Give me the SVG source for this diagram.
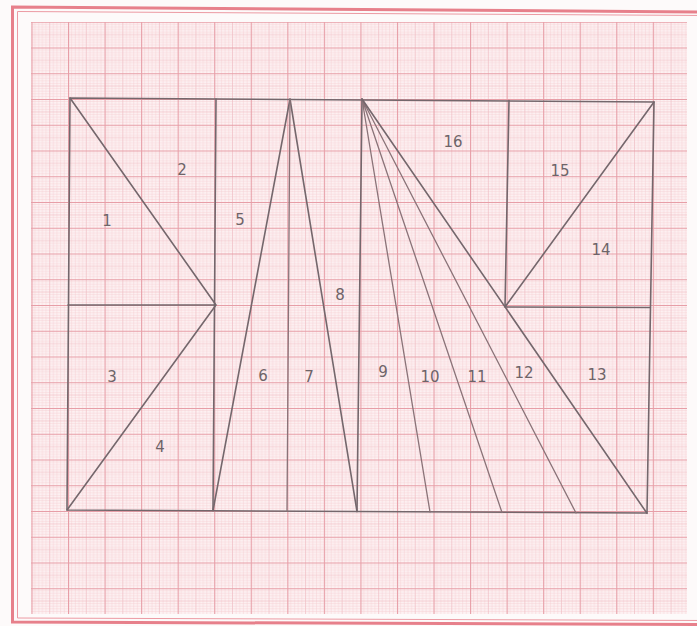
<svg xmlns="http://www.w3.org/2000/svg" width="697" height="626" viewBox="0 0 697 626">
<defs>
<pattern id="grid" patternUnits="userSpaceOnUse" x="68" y="99" width="36.55" height="25.75">
<rect width="36.55" height="25.75" fill="#fdf2f3"/>
<g stroke="#f5cdd2" stroke-width="0.5">
<path d="M3.655 0V25.75M7.31 0V25.75M10.965 0V25.75M14.62 0V25.75M21.93 0V25.75M25.585 0V25.75M29.24 0V25.75M32.895 0V25.75"/>
<path d="M0 2.575H36.55M0 5.15H36.55M0 7.725H36.55M0 10.3H36.55M0 15.45H36.55M0 18.025H36.55M0 20.6H36.55M0 23.175H36.55"/>
</g>
<g stroke="#f0bcc3" stroke-width="0.7">
<path d="M18.275 0V25.75M0 12.875H36.55"/>
</g>
<g stroke="#e79ea7" stroke-width="1.2">
<path d="M0.5 0V25.75M0 0.5H36.55"/>
</g>
</pattern>
<style>
.ln{stroke:#74676c;stroke-width:1.6;fill:none;stroke-linecap:round;stroke-linejoin:round}
.lt{stroke:#8a7378;stroke-width:1.3;fill:none;stroke-linecap:round}
.lb{font-family:"DejaVu Sans","Liberation Sans",sans-serif;font-size:15px;fill:#6e6468;text-anchor:middle;dominant-baseline:central}
</style>
</defs>
<rect width="697" height="626" fill="#fdfafa"/>
<path d="M705 12L12.5 7V622L705 624.5" fill="none" stroke="#e7808b" stroke-width="3"/>
<path d="M705 15.5L17.5 11.5V618L705 620.5" fill="none" stroke="#ec9aa3" stroke-width="1"/>
<rect x="31" y="22" width="656" height="592" fill="url(#grid)"/>
<g id="drawing">
<polygon class="ln" points="70,98 654,102 647,513 67,510"/>
<path class="ln" d="M216 99L213 510.5"/>
<path class="ln" d="M70 98L216 305M68 305H216M216 305L67 510"/>
<path class="ln" d="M290 99L213 510.5M290 99L357 511.5"/>
<path class="lt" d="M290 99L287 511"/>
<path class="ln" d="M362 99L357 511.5"/>
<path class="lt" d="M362 99L430 512M362 99L502 512.5M362 99L576 513"/>
<path class="ln" d="M362 99L647 513.3"/>
<path class="ln" d="M509 100.5L505 307M505 307L650 307.5M505 307L654 102"/>
</g>
<g id="labels">
<text class="lb" x="107" y="221">1</text>
<text class="lb" x="182" y="170">2</text>
<text class="lb" x="112" y="377">3</text>
<text class="lb" x="160" y="447">4</text>
<text class="lb" x="240" y="220">5</text>
<text class="lb" x="263" y="376">6</text>
<text class="lb" x="309" y="377">7</text>
<text class="lb" x="340" y="295">8</text>
<text class="lb" x="383" y="372">9</text>
<text class="lb" x="430" y="377">10</text>
<text class="lb" x="477" y="377">11</text>
<text class="lb" x="524" y="373">12</text>
<text class="lb" x="597" y="375">13</text>
<text class="lb" x="601" y="250">14</text>
<text class="lb" x="560" y="171">15</text>
<text class="lb" x="453" y="142">16</text>
</g>
</svg>
